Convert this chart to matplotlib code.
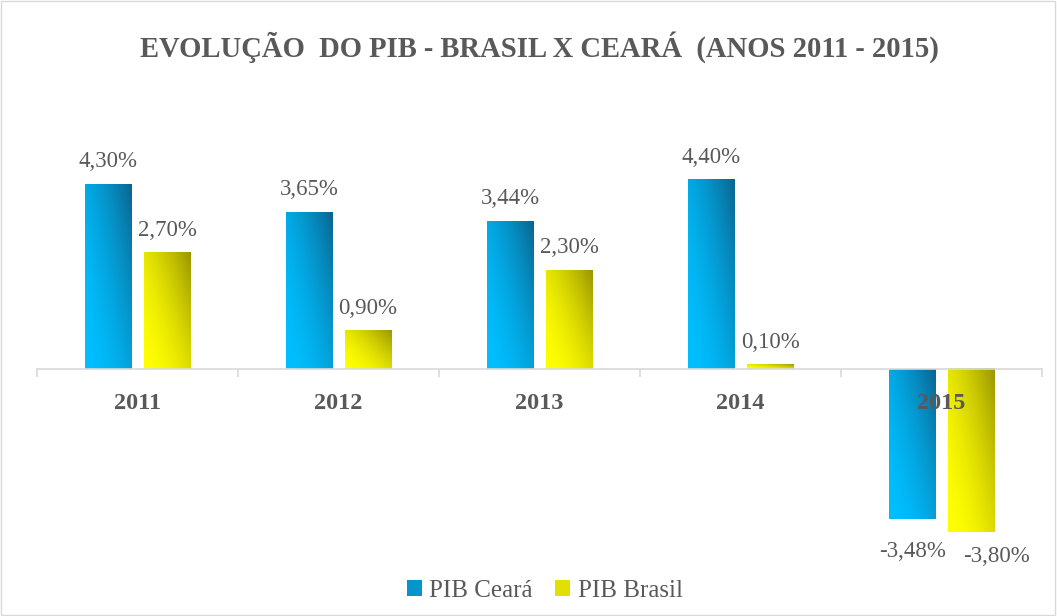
import numpy as np
import matplotlib.pyplot as plt
from matplotlib.patches import Patch, Rectangle
from matplotlib.colors import to_rgb

anos = ['2011', '2012', '2013', '2014', '2015']
pib_ceara = [4.30, 3.65, 3.44, 4.40, -3.48]
pib_brasil = [2.70, 0.90, 2.30, 0.10, -3.80]
series_names = ['PIB Ceará', 'PIB Brasil']

plt.rcParams['font.family'] = ['Liberation Serif', 'DejaVu Serif']
GREY = '#595959'
BLUE = ('#00bfff', '#0a6590')
YELLOW = ('#ffff00', '#9a9600')


def gradient_bar(ax, x, width, value, colors):
    # diagonal gradient: light at bottom-left, dark toward top-right
    y0, y1 = min(0, value), max(0, value)
    uu, vv = np.meshgrid(np.linspace(0, 1, 40), np.linspace(0, 1, 80))
    t = ((0.55 * uu + 0.45 * vv) ** 1.8)[..., None]
    a, b = np.array(to_rgb(colors[0])), np.array(to_rgb(colors[1]))
    img = a * (1 - t) + b * t
    ax.imshow(img, extent=(x - width / 2, x + width / 2, y0, y1),
              origin='lower', aspect='auto', zorder=2, interpolation='bilinear')


def fmt(v):
    return f'{v:.2f}%'.replace('.', ',')


fig = plt.figure(figsize=(10.57, 6.16), dpi=100)
ax = fig.add_axes([0.035, 0.0868, 0.951, 0.663])

width = 0.229
offset = 0.147
x = np.arange(len(anos))
for xi, val in zip(x, pib_ceara):
    gradient_bar(ax, xi - offset, width, val, BLUE)
for xi, val in zip(x, pib_brasil):
    gradient_bar(ax, xi + offset, width, val, YELLOW)

# negative labels: Excel pushes them apart so they do not collide
neg_shift = {-offset: (0, -16), offset: (18, -10)}
for series, dx in ((pib_ceara, -offset), (pib_brasil, offset)):
    for xi, val in zip(x, series):
        if val >= 0:
            ax.annotate(fmt(val), (xi + dx, val), xytext=(0, 8.5), textcoords='offset points',
                        ha='center', va='bottom', fontsize=16.5, color=GREY)
        else:
            ax.annotate(fmt(val), (xi + dx, val), xytext=neg_shift[dx], textcoords='offset points',
                        ha='center', va='top', fontsize=16.5, color=GREY)

ax.set_xlim(-0.5, 4.5)
ax.set_ylim(-4.5, 5.0)
ax.set_axisbelow(False)
for side in ('top', 'left', 'right'):
    ax.spines[side].set_visible(False)
ax.spines['bottom'].set_position(('data', 0))
ax.spines['bottom'].set_color('#d9d9d9')
ax.spines['bottom'].set_linewidth(1.2)
ax.set_yticks([])
ax.set_xticks(x)
ax.set_xticklabels(anos, fontsize=17.5, fontweight='bold', color=GREY)
ax.set_xticks(np.arange(-0.5, 5, 1), minor=True)
ax.tick_params(axis='x', which='major', length=0, pad=17)
ax.tick_params(axis='x', which='minor', length=6, color='#d9d9d9', width=1.2)

fig.text(539.5 / 1057, 0.924, 'EVOLUÇÃO  DO PIB - BRASIL X CEARÁ  (ANOS 2011 - 2015)',
         ha='center', va='center', fontsize=20.6, fontweight='bold', color=GREY)

handles = [Patch(facecolor='#0595cc', label=series_names[0]),
           Patch(facecolor='#e2e000', label=series_names[1])]
fig.legend(handles=handles, loc='center', bbox_to_anchor=(544.5 / 1057, 1 - 591 / 616), ncol=2,
           frameon=False, fontsize=18, labelcolor=GREY, handlelength=0.6, handleheight=0.6,
           handletextpad=0.3, columnspacing=0.9)

fig.patches.append(Rectangle((0.001, 0.001), 0.997, 0.997, transform=fig.transFigure,
                             fill=False, edgecolor='#d9d9d9', linewidth=1))

fig.savefig('out.png', dpi=100)
